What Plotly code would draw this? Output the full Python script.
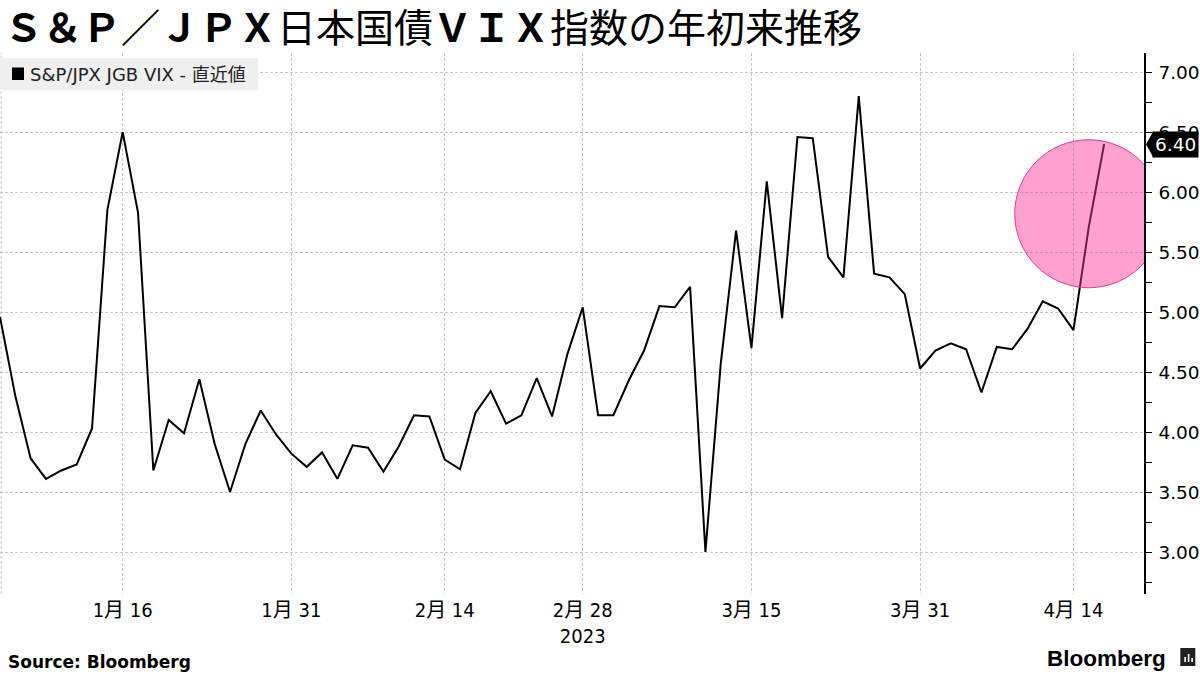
import plotly.graph_objects as go

# ---------------- data ----------------
dates = [
    "2022-12-30",
    "2023-01-04", "2023-01-05", "2023-01-06", "2023-01-10", "2023-01-11", "2023-01-12", "2023-01-13",
    "2023-01-16", "2023-01-17", "2023-01-18", "2023-01-19", "2023-01-20", "2023-01-23", "2023-01-24",
    "2023-01-25", "2023-01-26", "2023-01-27", "2023-01-30", "2023-01-31",
    "2023-02-01", "2023-02-02", "2023-02-03", "2023-02-06", "2023-02-07", "2023-02-08", "2023-02-09",
    "2023-02-10", "2023-02-13", "2023-02-14", "2023-02-15", "2023-02-16", "2023-02-17", "2023-02-20",
    "2023-02-21", "2023-02-22", "2023-02-24", "2023-02-27", "2023-02-28",
    "2023-03-01", "2023-03-02", "2023-03-03", "2023-03-06", "2023-03-07", "2023-03-08", "2023-03-09",
    "2023-03-10", "2023-03-13", "2023-03-14", "2023-03-15", "2023-03-16", "2023-03-17", "2023-03-20",
    "2023-03-22", "2023-03-23", "2023-03-24", "2023-03-27", "2023-03-28", "2023-03-29", "2023-03-30",
    "2023-03-31",
    "2023-04-03", "2023-04-04", "2023-04-05", "2023-04-06", "2023-04-07", "2023-04-10", "2023-04-11",
    "2023-04-12", "2023-04-13", "2023-04-14", "2023-04-17", "2023-04-18",
]

vix = [
    4.96, 4.30, 3.78, 3.61, 3.68, 3.73, 4.03, 5.85, 6.50, 5.83,
    3.68, 4.10, 3.99, 4.44, 3.90, 3.50, 3.90, 4.18, 3.98, 3.82,
    3.71, 3.83, 3.61, 3.89, 3.87, 3.67, 3.88, 4.14, 4.13, 3.77,
    3.69, 4.16, 4.34, 4.07, 4.14, 4.45, 4.13, 4.65, 5.04, 4.14,
    4.14, 4.43, 4.68, 5.05, 5.04, 5.21, 3.00, 4.57, 5.68, 4.70,
    6.09, 4.95, 6.46, 6.45, 5.46, 5.29, 6.80, 5.32, 5.29, 5.15,
    4.53, 4.68, 4.74, 4.69, 4.33, 4.71, 4.69, 4.86, 5.09, 5.03,
    4.85, 5.71, 6.40,
]

tick_dates = ["2023-01-16", "2023-01-31", "2023-02-14", "2023-02-28",
              "2023-03-15", "2023-03-31", "2023-04-14"]
tick_labels = ["1月 16", "1月 31", "2月 14", "2月 28<br>2023", "3月 15", "3月 31", "4月 14"]
y_ticks = [3.0, 3.5, 4.0, 4.5, 5.0, 5.5, 6.0, 6.5, 7.0]

title_html = "<b>Ｓ＆Ｐ／ＪＰＸ</b>日本国債<b>ＶＩＸ</b>指数の年初来推移"
legend_label = "S&P/JPX JGB VIX - 直近値"
source_text = "Source: Bloomberg"
brand_text = "Bloomberg"
last_value = vix[-1]

# ---------------- layout geometry ----------------
W, H = 1200, 675
L, R, T, B = 0, 1143.7, 53, 594


def px(x):
    return (x - L) / (R - L)


def py(y):
    return (B - y) / (B - T)


YFONT = "DejaVu Sans, Verdana, Noto Sans CJK JP"
XFONT = "Liberation Sans Narrow, DejaVu Sans Condensed, Arial Narrow, Noto Sans CJK JP"
CJK = "Noto Sans CJK JP"

fig = go.Figure()
fig.add_trace(go.Scatter(
    x=dates, y=vix, mode="lines",
    line=dict(color="black", width=2),
    hoverinfo="skip", showlegend=False,
))

grid = dict(gridcolor="#c4c4c4", gridwidth=1, griddash="3px,2px")

fig.update_xaxes(
    type="category",
    range=[0, 74.6],
    tickmode="array", tickvals=tick_dates, ticktext=tick_labels,
    showgrid=True, **grid,
    ticks="", showline=False, zeroline=False,
    tickfont=dict(family=XFONT, size=20, color="black"),
    ticklabelstandoff=2,
)
fig.update_yaxes(
    side="right",
    range=[2.65, 7.16],
    tickmode="array", tickvals=y_ticks, tickformat=".2f",
    showgrid=True, **grid,
    zeroline=False,
    showline=True, linecolor="black", linewidth=1.5,
    ticks="outside", ticklen=6, tickcolor="black", tickwidth=1,
    minor=dict(dtick=0.25, tick0=0, ticks="outside", ticklen=6, tickcolor="black", showgrid=False),
    tickfont=dict(family=YFONT, size=18.5, color="black"),
    ticklabelstandoff=3,
)

shapes = []
# left dashed edge line
shapes.append(dict(type="line", xref="paper", yref="paper", x0=0.001, x1=0.001, y0=0, y1=1,
                   line=dict(color="#c4c4c4", width=1, dash="3px,2px"), layer="below"))
# highlight circle around the latest jump
cx, cy, rx, ry = 71.0, 5.82, 4.83, 0.617
shapes.append(dict(type="circle", xref="x", yref="y",
                   x0=cx - rx, x1=cx + rx, y0=cy - ry, y1=cy + ry,
                   fillcolor="rgba(255,51,153,0.46)",
                   line=dict(color="rgb(222,60,140)", width=1), layer="above"))
# legend box and square
shapes.append(dict(type="rect", xref="paper", yref="paper",
                   x0=px(0), x1=px(258), y0=py(90), y1=py(58),
                   fillcolor="#efefef", line=dict(width=0), layer="above"))
shapes.append(dict(type="rect", xref="paper", yref="paper",
                   x0=px(12), x1=px(24), y0=py(80), y1=py(67.5),
                   fillcolor="black", line=dict(width=0), layer="above"))
# last-value arrow tip
shapes.append(dict(type="path", xref="paper", yref="y", xsizemode="pixel", ysizemode="pixel",
                   xanchor=1, yanchor=last_value,
                   path="M 2,0 L 9,12.5 L 9,-12.5 Z",
                   fillcolor="black", line=dict(width=0)))
# Bloomberg icon
shapes.append(dict(type="rect", xref="paper", yref="paper",
                   x0=px(1180), x1=px(1195), y0=py(666), y1=py(648),
                   fillcolor="#222222", line=dict(width=0)))
for bx, top in [(1184, 657), (1187.5, 654), (1191, 658)]:
    shapes.append(dict(type="rect", xref="paper", yref="paper",
                       x0=px(bx), x1=px(bx + 1.6), y0=py(662), y1=py(top),
                       fillcolor="white", line=dict(width=0)))

annotations = [
    dict(text=title_html, xref="paper", yref="paper", x=px(2), y=py(25),
         xanchor="left", yanchor="middle", showarrow=False,
         font=dict(family=CJK, size=39, color="black")),
    dict(text=legend_label, xref="paper", yref="paper", x=px(28), y=py(74),
         xanchor="left", yanchor="middle", showarrow=False,
         font=dict(family=YFONT, size=18, color="#222222")),
    dict(text=f"{last_value:.2f}", xref="paper", yref="y", x=1, y=last_value,
         xanchor="left", yanchor="middle", xshift=8, showarrow=False,
         bgcolor="black", borderpad=2,
         font=dict(family=YFONT, size=18.5, color="white")),
    dict(text=f"<b>{source_text}</b>", xref="paper", yref="paper", x=px(6), y=py(662),
         xanchor="left", yanchor="middle", showarrow=False,
         font=dict(family="DejaVu Sans, Noto Sans", size=17, color="black")),
    dict(text=f"<b>{brand_text}</b>", xref="paper", yref="paper", x=px(1168), y=py(658),
         xanchor="right", yanchor="middle", showarrow=False,
         font=dict(family="Liberation Sans, Arial, Noto Sans", size=22.5, color="black")),
]

fig.update_layout(
    width=W, height=H,
    margin=dict(l=L, r=W - R, t=T, b=H - B, autoexpand=False),
    paper_bgcolor="white", plot_bgcolor="white",
    shapes=shapes, annotations=annotations,
    showlegend=False, hovermode=False,
)

fig.write_html(
    "out.html",
    config={"displayModeBar": False},
    post_script="document.body.style.margin='0';document.body.style.overflow='hidden';",
)
